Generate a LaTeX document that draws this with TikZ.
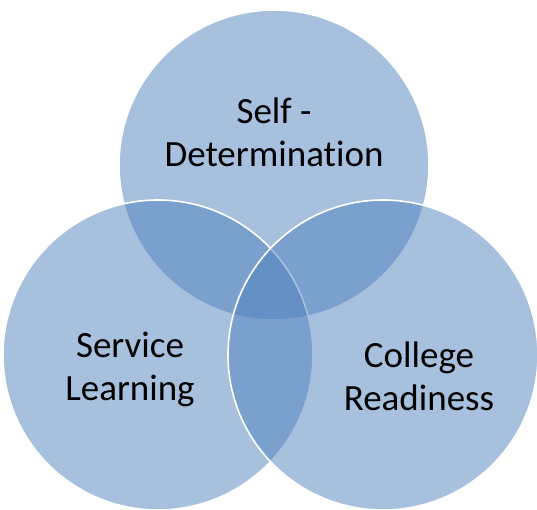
\documentclass[tikz,border=0pt]{standalone}
\usepackage{fontspec}
\setmainfont{Carlito}[Ligatures=NoCommon]
\usepackage{xcolor}
\definecolor{vennblue}{HTML}{4F81BD}

\tikzset{
  venn/.style={circle, draw=white, line width=1.6pt, fill=vennblue, fill opacity=0.5, minimum size=310pt, inner sep=0pt},
  vlabel/.style={align=center, font=\fontsize{37}{43}\selectfont, text=black}
}

\begin{document}
\begin{tikzpicture}[x=1pt, y=-1pt]
        	\useasboundingbox (0,0) rectangle (537,510);
        	\node[venn] (S) at (274, 165) {};
        	\node[venn] (L) at (158, 355) {};
        	\node[venn] (R) at (383, 355) {};
        	\node[vlabel] (A) at (274, 132) {Self -\\Determination};
        	\node[vlabel] (B) at (130, 369) {Service\\Learning};
        	\node[vlabel] (C) at (419, 376) {College\\Readiness};
\end{tikzpicture}
\end{document}
